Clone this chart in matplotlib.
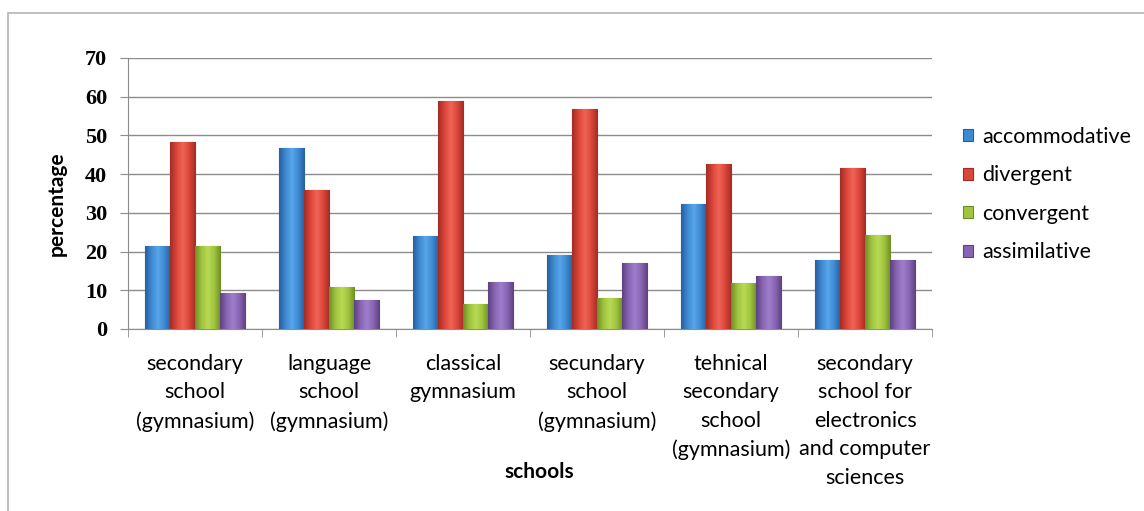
import matplotlib.pyplot as plt
import numpy as np
from matplotlib.patches import Rectangle
from matplotlib.colors import LinearSegmentedColormap

# Schools (x categories)
schools = [
    'secondary\nschool\n(gymnasium)',
    'language\nschool\n(gymnasium)',
    'classical\ngymnasium',
    'secundary\nschool\n(gymnasium)',
    'tehnical\nsecondary\nschool\n(gymnasium)',
    'secondary\nschool for\nelectronics\nand computer\nsciences',
]

# Learning style percentages
accommodative = [21.5, 46.7, 23.9, 19.1, 32.3, 17.8]
divergent = [48.4, 35.9, 59.0, 56.8, 42.6, 41.6]
convergent = [21.5, 10.9, 6.4, 7.9, 12.0, 24.2]
assimilative = [9.2, 7.5, 12.1, 17.1, 13.8, 17.8]

series = [accommodative, divergent, convergent, assimilative]
names = ['accommodative', 'divergent', 'convergent', 'assimilative']
colors = ['#3d8ad3', '#dc4539', '#a0c43f', '#8865b4']
edges = ['#275f9e', '#a02d25', '#6e8e24', '#5c427f']
lights = ['#5aa6ea', '#ef6558', '#b9da55', '#9f7fcb']

fig = plt.figure(figsize=(11.44, 5.11), dpi=100)
# light border of the chart area (only top and left are visible)
fig.patches.append(Rectangle((0.007, -0.2), 1.2, 1.1746, transform=fig.transFigure,
                             fill=False, edgecolor='#b4b4b4', linewidth=1.2))

ax = fig.add_axes([0.1119, 0.3562, 0.7028, 0.5303])

index = np.arange(len(schools))
bar_width = 0.187
grad = np.linspace(0, 1, 64).reshape(1, -1)
for i, (vals, name) in enumerate(zip(series, names)):
    bars = ax.bar(index + (i - 1.5) * bar_width, vals, bar_width, label=name,
                  color=colors[i], edgecolor=edges[i], linewidth=0.8, zorder=3)
    cmap = LinearSegmentedColormap.from_list(
        name, [edges[i], colors[i], lights[i], colors[i], edges[i]])
    for b in bars:
        x0, y0, w, h = b.get_x(), b.get_y(), b.get_width(), b.get_height()
        im = ax.imshow(grad, extent=[x0, x0 + w, y0, y0 + h], aspect='auto',
                       cmap=cmap, zorder=3.5, interpolation='bicubic')
        im.set_clip_path(b)

ax.set_xlim(-0.5, len(schools) - 0.5)
ax.set_ylim(0, 70)
ax.set_yticks(range(0, 71, 10))
ax.set_yticklabels([str(v) for v in range(0, 71, 10)],
                   fontfamily='Liberation Serif', fontweight='bold', fontsize=16)
ax.set_xticks(index)
ax.set_xticklabels(schools, fontfamily='Lato', fontsize=15.5, linespacing=1.53)
ax.set_xticks(np.arange(-0.5, len(schools), 1), minor=True)
ax.tick_params(axis='x', which='major', length=0, pad=18)
ax.tick_params(axis='x', which='minor', length=6, color='#8c8c8c')
ax.tick_params(axis='y', length=6, color='#8c8c8c', pad=9)

ax.grid(True, axis='y', color='#8c8c8c', linewidth=1, zorder=0)
for s in ['top', 'right']:
    ax.spines[s].set_visible(False)
ax.spines['left'].set_color('#8c8c8c')
ax.spines['bottom'].set_color('#8c8c8c')

fig.text(0.0498, 0.602, 'percentage', fontfamily='Lato', fontweight='bold',
         fontsize=15, rotation=90, ha='center', va='center')
fig.text(0.471, 0.0763, 'schools', fontfamily='Lato', fontweight='bold',
         fontsize=15, ha='center', va='center')

ax.legend(loc='center left', bbox_to_anchor=(1.038, 0.496), frameon=False,
          borderpad=0, borderaxespad=0,
          prop={'family': 'Lato', 'size': 15.5}, handlelength=0.5,
          handleheight=0.5, handletextpad=0.4, labelspacing=0.86)

fig.savefig('out.png', dpi=100)
